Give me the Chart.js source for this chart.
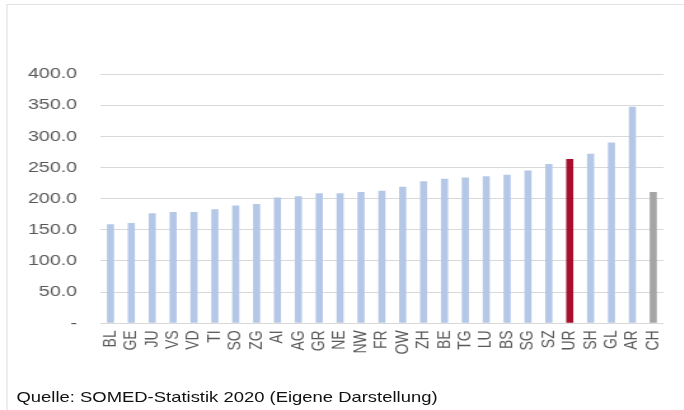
<!DOCTYPE html>
<html>
<head>
<meta charset="utf-8">
<script src="https://cdn.jsdelivr.net/npm/chart.js@4/dist/chart.umd.min.js"></script>
<style>
    html, body { margin: 0; padding: 0; background: #fff; }
    body { width: 684px; height: 410px; overflow: hidden; }
    /* the reference is stretched horizontally, so draw narrow and scale */
    #stage {
        position: absolute; left: 0; top: 0;
        width: 538px; height: 410px;
        transform: scaleX(1.271); transform-origin: 0 0;
    }
    #frame {
        position: absolute; left: 4.5px; top: 4px; right: 0; bottom: 0;
        border-left: 1px solid #e3e3e3; border-top: 1px solid #e3e3e3;
    }
    #wrap { position: absolute; left: 0; top: 0; width: 538px; height: 410px; }
    #source {
        position: absolute; left: 13px; top: 390px;
        font: 14.5px/14.5px "Liberation Sans", Arial, sans-serif;
        color: #111; white-space: nowrap;
    }
</style>
</head>
<body>
<div id="stage">
    <div id="frame"></div>
    <div id="wrap"><canvas id="barChart"></canvas></div>
    <div id="source">Quelle: SOMED-Statistik 2020 (Eigene Darstellung)</div>
</div>
<script>
// Kantone, aufsteigend sortiert, CH = Schweiz gesamt
const cantons = ['BL', 'GE', 'JU', 'VS', 'VD', 'TI', 'SO', 'ZG', 'AI', 'AG', 'GR', 'NE', 'NW', 'FR',
                 'OW', 'ZH', 'BE', 'TG', 'LU', 'BS', 'SG', 'SZ', 'UR', 'SH', 'GL', 'AR', 'CH'];
const values = [159, 161, 176.5, 178.5, 178.5, 183, 189, 191.5, 202, 204, 208.5, 208.5, 210.5, 212.5,
                219, 228, 232, 234, 236, 238.5, 245, 255.5, 263.5, 272, 290, 347.5, 210.5];
const yTicks = [0, 50, 100, 150, 200, 250, 300, 350, 400];

const highlight = 'UR';
const total = 'CH';

document.addEventListener('DOMContentLoaded', () => {
    const ctx = document.getElementById('barChart').getContext('2d');

    const barColors = cantons.map(c => c === highlight ? '#a6102f' : (c === total ? '#a5a5a5' : '#b4c7e7'));

    new Chart(ctx, {
        type: 'bar',
        data: {
            labels: cantons,
            datasets: [{
                data: values,
                backgroundColor: barColors,
                borderWidth: 0,
                barPercentage: 0.34,
                categoryPercentage: 1
            }]
        },
        options: {
            responsive: true,
            maintainAspectRatio: false,
            animation: false,
            layout: { padding: { top: 74, right: 13.5, bottom: 0, left: 0 } },
            scales: {
                x: {
                    grid: { display: false, drawTicks: false },
                    border: { display: false },
                    ticks: {
                        color: '#595959',
                        font: { family: '"Liberation Sans", Arial, sans-serif', size: 14 },
                        minRotation: 90,
                        maxRotation: 90,
                        autoSkip: false,
                        padding: 7
                    },
                    afterFit: (axis) => { axis.height = 86.7; }
                },
                y: {
                    min: 0,
                    max: 400,
                    afterBuildTicks: (axis) => { axis.ticks = yTicks.map(v => ({ value: v })); },
                    grid: { color: '#d9d9d9', lineWidth: 1, drawTicks: false },
                    border: { display: false },
                    ticks: {
                        color: '#595959',
                        font: { family: '"Liberation Sans", Arial, sans-serif', size: 15.5 },
                        padding: 18,
                        callback: (v) => v === 0 ? '-' : Number(v).toFixed(1)
                    },
                    afterFit: (axis) => { axis.width = 78.7; }
                }
            },
            plugins: {
                legend: { display: false },
                tooltip: { enabled: false }
            }
        }
    });
});
</script>
</body>
</html>
